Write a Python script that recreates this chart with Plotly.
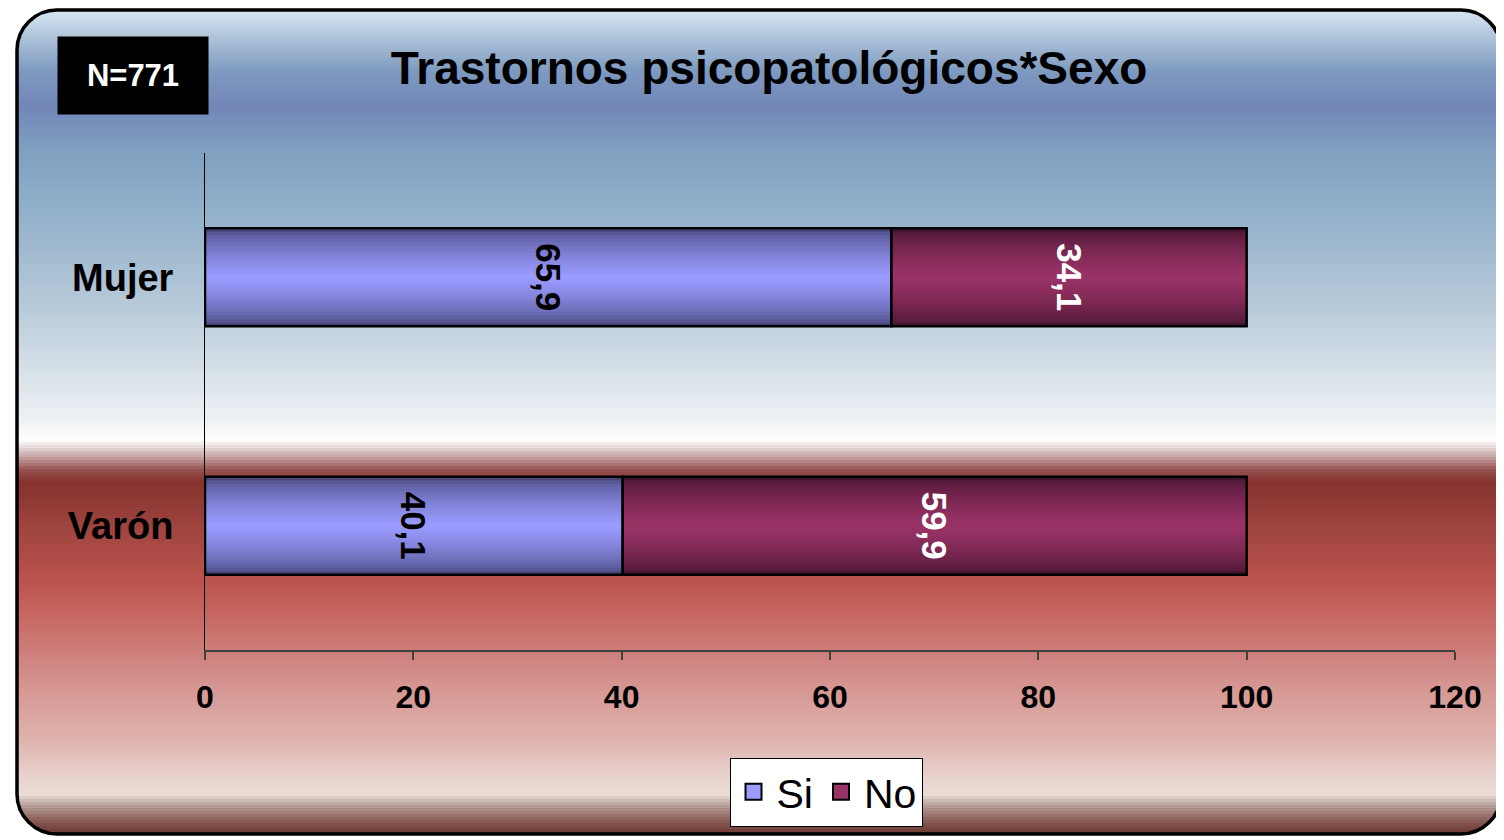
import plotly.graph_objects as go

# data
categories = ["Mujer", "Varón"]
series_names = ["Si", "No"]
si_values = [65.9, 40.1]
no_values = [34.1, 59.9]
x_ticks = [0, 20, 40, 60, 80, 100, 120]

FONT = "Liberation Sans, Arial, sans-serif"
OFF = 8  # page body margin
W, H = 1504 - OFF, 840 - OFF
PL, PR, PT, PB = 205, 1455, 153, 650  # plot area in screen pixels

# colours: (edge, centre) for the bar shading, text colour
bar_styles = {
    "Si": ("#454578", "#9a9aff", "black"),
    "No": ("#45142f", "#993366", "white"),
}

# background gradient stops (pixel y, colour)
bg_stops = [
    (10, "#d8e6f2"), (40, "#aac0d7"), (70, "#7f9bc1"), (105, "#7286b8"),
    (150, "#7f9fc0"), (200, "#8eadc8"), (300, "#b4c8d8"), (370, "#d6e0e8"),
    (420, "#eef1f4"), (440, "#ffffff"), (455, "#cdaeae"), (470, "#96524f"),
    (482, "#86322e"), (530, "#a04540"), (580, "#bb524d"), (620, "#c86a65"),
    (680, "#d4928e"), (740, "#dfb3ae"), (780, "#e8d5cf"), (795, "#eadbd5"),
    (805, "#b9a19c"), (820, "#8a5e58"), (834, "#6a3530"),
]


def hex_rgb(h):
    h = h.lstrip("#")
    return [int(h[i:i + 2], 16) for i in (0, 2, 4)]


def mix(c1, c2, t):
    a, b = hex_rgb(c1), hex_rgb(c2)
    return "rgb(%d,%d,%d)" % tuple(round(a[i] + (b[i] - a[i]) * t) for i in range(3))


def bg_color(y):
    for (y0, c0), (y1, c1) in zip(bg_stops, bg_stops[1:]):
        if y <= y1:
            return mix(c0, c1, max(0, (y - y0) / (y1 - y0)))
    return mix(bg_stops[-1][1], bg_stops[-1][1], 0)


def px(x):
    return (x - PL) / (PR - PL)


def py(y):
    return (PB - y) / (PB - PT)


def fmt(v):
    return f"{v:.1f}".replace(".", ",")


fig = go.Figure()

# stacked bars drawn as overlaid layers to get the shaded look
bar_w = 0.394
n_layers = 14
bases = {"Si": [0] * len(si_values), "No": si_values}
vals = {"Si": si_values, "No": no_values}
for name in series_names:
    edge, centre, txt = bar_styles[name]
    for k in range(n_layers):
        t = k / (n_layers - 1)
        fig.add_trace(go.Bar(
            y=categories, x=vals[name], base=bases[name], orientation="h",
            width=bar_w * (1 - 0.93 * t), marker_color=mix(edge, centre, t ** 0.6),
            marker_line_width=0, showlegend=False, hoverinfo="skip",
        ))
    fig.add_trace(go.Bar(
        y=categories, x=vals[name], base=bases[name], orientation="h",
        width=bar_w, marker=dict(color="rgba(0,0,0,0)", line=dict(color="black", width=2.5)),
        text=[fmt(v) for v in vals[name]], textposition="inside",
        insidetextanchor="middle", textangle=90, constraintext="none",
        textfont=dict(family=FONT, size=35, color=txt, weight="bold"),
        name=name, showlegend=False,
    ))

# legend entries
for name in series_names:
    fig.add_trace(go.Scatter(
        x=[None], y=[None], mode="markers", name=name,
        marker=dict(symbol="square", size=22, color=bar_styles[name][1],
                    line=dict(color="black", width=2)),
    ))

# background
L, R, T, B, rad = 17, 1501, 10, 834, 40
k = 0.552 * rad
shapes = []
step = 3
y = T
while y < B:
    shapes.append(dict(type="rect", xref="paper", yref="paper", layer="below",
                       x0=px(L), x1=px(R), y0=py(y), y1=py(min(y + step + 0.6, B)),
                       fillcolor=bg_color(y + step / 2), line_width=0))
    y += step


def P(x, y):
    return f"{px(x):.5f},{py(y):.5f}"


corners = [
    f"M{P(L, T + rad)} C{P(L, T + rad - k)} {P(L + rad - k, T)} {P(L + rad, T)} L{P(L - 2, T - 2)} Z",
    f"M{P(R - rad, T)} C{P(R - rad + k, T)} {P(R, T + rad - k)} {P(R, T + rad)} L{P(R + 2, T - 2)} Z",
    f"M{P(R, B - rad)} C{P(R, B - rad + k)} {P(R - rad + k, B)} {P(R - rad, B)} L{P(R + 2, B + 2)} Z",
    f"M{P(L + rad, B)} C{P(L + rad - k, B)} {P(L, B - rad + k)} {P(L, B - rad)} L{P(L - 2, B + 2)} Z",
]
for c in corners:
    shapes.append(dict(type="path", xref="paper", yref="paper", layer="below",
                       path=c, fillcolor="white", line_width=0))

border = (f"M{P(L + rad, T)} L{P(R - rad, T)} C{P(R - rad + k, T)} {P(R, T + rad - k)} {P(R, T + rad)} "
          f"L{P(R, B - rad)} C{P(R, B - rad + k)} {P(R - rad + k, B)} {P(R - rad, B)} "
          f"L{P(L + rad, B)} C{P(L + rad - k, B)} {P(L, B - rad + k)} {P(L, B - rad)} "
          f"L{P(L, T + rad)} C{P(L, T + rad - k)} {P(L + rad - k, T)} {P(L + rad, T)} Z")
shapes.append(dict(type="path", xref="paper", yref="paper", layer="below",
                   path=border, line=dict(color="black", width=3.5)))

fig.update_layout(
    width=W, height=H,
    margin=dict(l=PL - OFF, r=1504 - PR, t=PT - OFF, b=840 - PB),
    paper_bgcolor="white", plot_bgcolor="rgba(0,0,0,0)",
    barmode="overlay",
    shapes=shapes,
    title=dict(text="Trastornos psicopatológicos*Sexo", x=(769 - OFF) / W, xanchor="center",
               y=1 - (68 - OFF) / H, yanchor="middle",
               font=dict(family=FONT, size=46, color="black", weight="bold")),
    legend=dict(orientation="h", x=px(826), xanchor="center", y=py(792), yanchor="middle",
                bgcolor="white", bordercolor="black", borderwidth=1, itemsizing="trace",
                itemwidth=36,
                font=dict(family=FONT, size=41, color="black")),
    annotations=[dict(text="N=771", xref="paper", yref="paper", x=px(133), y=py(76),
                      xanchor="center", yanchor="middle", showarrow=False,
                      bgcolor="black", width=146, height=73, borderpad=2,
                      font=dict(family=FONT, size=31, color="white", weight="bold"))],
    xaxis=dict(range=[0, 120], tickvals=x_ticks, showgrid=False, zeroline=False,
               showline=True, linecolor="#404040", linewidth=1.5,
               ticks="outside", ticklen=8, tickcolor="#404040", tickwidth=1.5,
               ticklabelstandoff=10,
               tickfont=dict(family=FONT, size=32, color="black", weight="bold")),
    yaxis=dict(range=[1.5, -0.5], showgrid=False, zeroline=False,
               showline=True, linecolor="black", linewidth=1, ticks="",
               ticklabelstandoff=23,
               tickfont=dict(family=FONT, size=38, color="black", weight="bold")),
)

fig.write_html("out.html")
